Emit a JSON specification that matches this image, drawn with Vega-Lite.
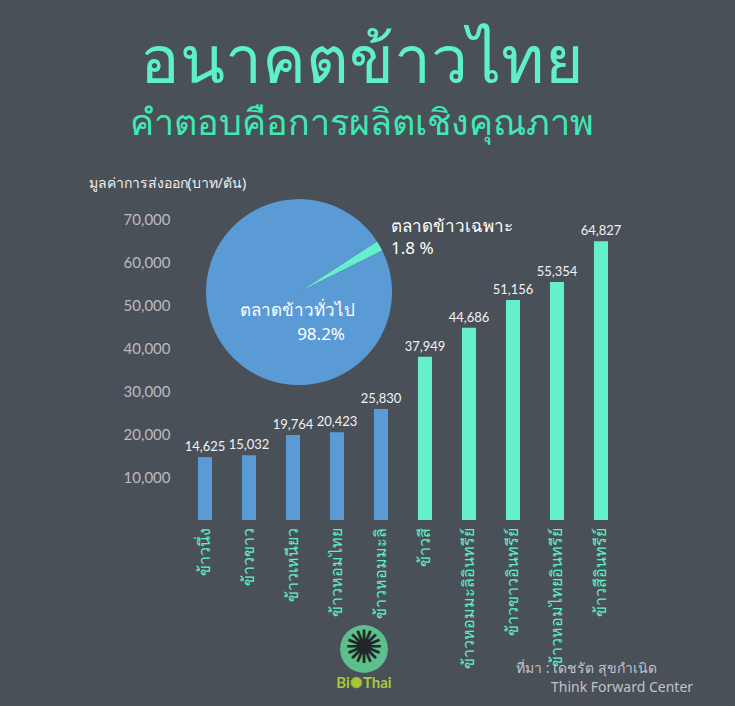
{
  "$schema": "https://vega.github.io/schema/vega-lite/v6.json",
  "autosize": "none",
  "width": 440,
  "height": 301,
  "padding": {"left": 183, "top": 219, "right": 112, "bottom": 186},
  "background": "#4a5058",
  "config": {"view": {"stroke": null}, "font": "Noto Sans"},
  "title": {
    "text": "อนาคตข้าวไทย",
    "subtitle": "คำตอบคือการผลิตเชิงคุณภาพ",
    "anchor": "middle",
    "frame": "group",
    "dx": -41,
    "offset": 33,
    "fontSize": 66,
    "fontWeight": "normal",
    "subtitleFontSize": 36,
    "subtitlePadding": 10,
    "color": "#5ef0c8",
    "subtitleColor": "#3fe9b4"
  },
  "datasets": {
    "rice": [
      {"rice": "ข้าวนึ่ง", "price": 14625, "market": "ตลาดข้าวทั่วไป"},
      {"rice": "ข้าวขาว", "price": 15032, "market": "ตลาดข้าวทั่วไป"},
      {"rice": "ข้าวเหนียว", "price": 19764, "market": "ตลาดข้าวทั่วไป"},
      {"rice": "ข้าวหอมไทย", "price": 20423, "market": "ตลาดข้าวทั่วไป"},
      {"rice": "ข้าวหอมมะลิ", "price": 25830, "market": "ตลาดข้าวทั่วไป"},
      {"rice": "ข้าวสี", "price": 37949, "market": "ตลาดข้าวเฉพาะ"},
      {"rice": "ข้าวหอมมะลิอินทรีย์", "price": 44686, "market": "ตลาดข้าวเฉพาะ"},
      {"rice": "ข้าวขาวอินทรีย์", "price": 51156, "market": "ตลาดข้าวเฉพาะ"},
      {"rice": "ข้าวหอมไทยอินทรีย์", "price": 55354, "market": "ตลาดข้าวเฉพาะ"},
      {"rice": "ข้าวสีอินทรีย์", "price": 64827, "market": "ตลาดข้าวเฉพาะ"}
    ],
    "share": [
      {"market": "ตลาดข้าวเฉพาะ", "share": 1.8},
      {"market": "ตลาดข้าวทั่วไป", "share": 98.2}
    ]
  },
  "layer": [
    {
      "data": {"name": "rice"},
      "mark": {"type": "bar"},
      "encoding": {
        "x": {
          "field": "rice", "type": "nominal", "sort": null,
          "scale": {
            "domain": ["ข้าวนึ่ง", "ข้าวขาว", "ข้าวเหนียว", "ข้าวหอมไทย", "ข้าวหอมมะลิ", "ข้าวสี", "ข้าวหอมมะลิอินทรีย์", "ข้าวขาวอินทรีย์", "ข้าวหอมไทยอินทรีย์", "ข้าวสีอินทรีย์"],
            "paddingInner": 0.68, "paddingOuter": 0.34
          },
          "axis": {
            "title": null, "domain": false, "ticks": false, "labelAngle": -90,
            "labelAlign": "right", "labelBaseline": "middle",
            "labelPadding": 7, "labelFontSize": 16, "labelColor": "#5ef0c8",
            "labelLimit": 0
          }
        },
        "y": {
          "field": "price", "type": "quantitative",
          "scale": {"domain": [0, 70000], "nice": false, "zero": true},
          "axis": {
            "title": "มูลค่าการส่งออก(บาท/ตัน)",
            "titleAngle": 0, "titleAlign": "left", "titleBaseline": "middle",
            "titleX": -95, "titleY": -36, "titleFontSize": 14, "titleFontWeight": "normal",
            "titleColor": "#f0f0f0",
            "values": [10000, 20000, 30000, 40000, 50000, 60000, 70000],
            "format": ",.0f", "domain": false, "ticks": false, "grid": false,
            "labelPadding": 13, "labelFontSize": 15, "labelColor": "#b8bcc2",
            "labelFont": "Lato"
          }
        },
        "color": {
          "field": "market", "type": "nominal",
          "scale": {"domain": ["ตลาดข้าวทั่วไป", "ตลาดข้าวเฉพาะ"], "range": ["#5b9bd5", "#64f0cb"]},
          "legend": null
        }
      }
    },
    {
      "data": {"name": "rice"},
      "mark": {"type": "text", "dy": -10, "fontSize": 13, "color": "#f2f2f2", "font": "Lato"},
      "encoding": {
        "x": {"field": "rice", "type": "nominal", "sort": null},
        "y": {"field": "price", "type": "quantitative"},
        "text": {"field": "price", "type": "quantitative", "format": ",.0f"}
      }
    },
    {
      "data": {"name": "share"},
      "mark": {"type": "arc", "radius": 93, "xOffset": 6},
      "encoding": {
        "x": {"datum": "ข้าวเหนียว", "type": "nominal"},
        "y": {"datum": 53000, "type": "quantitative"},
        "theta": {"field": "share", "type": "quantitative", "stack": true, "scale": {"range": [0.995, 7.278]}},
        "order": {"field": "share", "sort": "ascending"},
        "color": {"field": "market", "type": "nominal", "legend": null}
      }
    },
    {
      "data": {"values": [{}]},
      "mark": {"type": "text", "align": "right", "xOffset": 62, "fontSize": 17, "color": "#ffffff"},
      "encoding": {
        "x": {"datum": "ข้าวเหนียว", "type": "nominal"},
        "y": {"datum": 48700, "type": "quantitative"},
        "text": {"value": "ตลาดข้าวทั่วไป"}
      }
    },
    {
      "data": {"values": [{}]},
      "mark": {"type": "text", "align": "right", "xOffset": 52, "fontSize": 17, "color": "#ffffff"},
      "encoding": {
        "x": {"datum": "ข้าวเหนียว", "type": "nominal"},
        "y": {"datum": 43100, "type": "quantitative"},
        "text": {"value": "98.2%"}
      }
    },
    {
      "data": {"values": [{}]},
      "mark": {"type": "text", "align": "left", "xOffset": 10, "fontSize": 17, "color": "#ffffff"},
      "encoding": {
        "x": {"datum": "ข้าวหอมมะลิ", "type": "nominal"},
        "y": {"datum": 68200, "type": "quantitative"},
        "text": {"value": "ตลาดข้าวเฉพาะ"}
      }
    },
    {
      "data": {"values": [{}]},
      "mark": {"type": "text", "align": "left", "xOffset": 10, "fontSize": 17, "color": "#ffffff"},
      "encoding": {
        "x": {"datum": "ข้าวหอมมะลิ", "type": "nominal"},
        "y": {"datum": 63100, "type": "quantitative"},
        "text": {"value": "1.8 %"}
      }
    },
    {
      "data": {"values": [{}]},
      "mark": {"type": "point", "filled": true, "size": 2290, "xOffset": 27, "color": "#5cbf8c", "opacity": 1},
      "encoding": {
        "x": {"datum": "ข้าวหอมไทย", "type": "nominal"},
        "y": {"datum": -30000, "type": "quantitative"}
      }
    },
    {
      "data": {"values": [{}]},
      "mark": {"type": "text", "xOffset": 27, "fontSize": 46, "color": "#22262a", "font": "DejaVu Sans"},
      "encoding": {
        "x": {"datum": "ข้าวหอมไทย", "type": "nominal"},
        "y": {"datum": -30000, "type": "quantitative"},
        "text": {"value": "✺"}
      }
    },
    {
      "data": {"values": [{}]},
      "mark": {"type": "text", "xOffset": 27, "fontSize": 15, "fontWeight": "bold", "color": "#a8c83c", "font": "Lato"},
      "encoding": {
        "x": {"datum": "ข้าวหอมไทย", "type": "nominal"},
        "y": {"datum": -37900, "type": "quantitative"},
        "text": {"value": "Bi✺Thai"}
      }
    },
    {
      "data": {"values": [{}]},
      "mark": {"type": "text", "align": "left", "xOffset": 3, "fontSize": 14, "color": "#c0c4c8"},
      "encoding": {
        "x": {"datum": "ข้าวขาวอินทรีย์", "type": "nominal"},
        "y": {"datum": -34700, "type": "quantitative"},
        "text": {"value": "ที่มา : เดชรัต สุขกำเนิด"}
      }
    },
    {
      "data": {"values": [{}]},
      "mark": {"type": "text", "align": "left", "xOffset": -6, "fontSize": 14, "color": "#c0c4c8"},
      "encoding": {
        "x": {"datum": "ข้าวหอมไทยอินทรีย์", "type": "nominal"},
        "y": {"datum": -39100, "type": "quantitative"},
        "text": {"value": "Think Forward Center"}
      }
    }
  ]
}
